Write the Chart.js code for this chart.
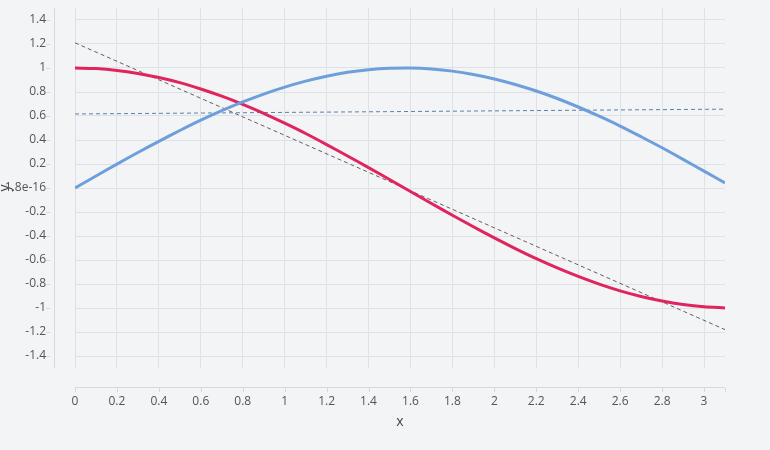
<!DOCTYPE html><html><head>
    <title>sin / cos</title>
    <style>
        html, body { margin: 0; padding: 0; background: #f3f4f6; }
        #wrap { width: 770px; height: 450px; }
    </style>
</head>
<body>
    <div id="wrap"><canvas id="chart" width="770" height="450"></canvas></div>
    <script src="https://cdn.jsdelivr.net/npm/chart.js"></script>
    <script>
        // values
        const xs = [0, 0.1, 0.2, 0.3, 0.4, 0.5, 0.6, 0.7, 0.8, 0.9, 1.0, 1.1, 1.2, 1.3, 1.4, 1.5,
                    1.6, 1.7, 1.8, 1.9, 2.0, 2.1, 2.2, 2.3, 2.4, 2.5, 2.6, 2.7, 2.8, 2.9, 3.0, 3.1];
        const sinVals = [0, 0.100, 0.199, 0.296, 0.389, 0.479, 0.565, 0.644, 0.717, 0.783, 0.841, 0.891,
                    0.932, 0.964, 0.985, 0.997, 1.000, 0.992, 0.974, 0.946, 0.909, 0.863, 0.808, 0.746,
                    0.675, 0.598, 0.516, 0.427, 0.335, 0.239, 0.141, 0.042];
        const cosVals = [1, 0.995, 0.980, 0.955, 0.921, 0.878, 0.825, 0.765, 0.697, 0.622, 0.540, 0.454,
                    0.362, 0.267, 0.170, 0.071, -0.029, -0.129, -0.227, -0.323, -0.416, -0.505, -0.589,
                    -0.666, -0.737, -0.801, -0.857, -0.904, -0.942, -0.971, -0.990, -0.999];
        const trendX = [0, 3.1];
        const sinTrend = [0.617, 0.657];
        const cosTrend = [1.21, -1.18];
        const xTicks = [0, 0.2, 0.4, 0.6, 0.8, 1, 1.2, 1.4, 1.6, 1.8, 2, 2.2, 2.4, 2.6, 2.8, 3];
        const yTicks = [-1.4, -1.2, -1, -0.8, -0.6, -0.4, -0.2, 0, 0.2, 0.4, 0.6, 0.8, 1, 1.2, 1.4];
        const yTickLabels = ['-1.4', '-1.2', '-1', '-0.8', '-0.6', '-0.4', '-0.2', '1.8e-16',
                    '0.2', '0.4', '0.6', '0.8', '1', '1.2', '1.4'];

        Chart.defaults.font.family = "'Open Sans', 'Noto Sans', sans-serif";
        Chart.defaults.color = '#50555c';

        function pts(xa, ya) { return xa.map((x, i) => ({x: x, y: ya[i]})); }

        // axis lines sit a little apart from the plot area, drawn by hand
        const axisLines = {
            id: 'axisLines',
            afterDraw(chart) {
                const {ctx, chartArea: a, scales} = chart;
                ctx.save();
                ctx.strokeStyle = '#d6d8dd';
                ctx.lineWidth = 1;
                ctx.beginPath();
                ctx.moveTo(54.5, a.top); ctx.lineTo(54.5, a.bottom);
                ctx.moveTo(a.left, 387.5); ctx.lineTo(a.right, 387.5);
                yTicks.forEach(v => {
                    const y = Math.round(scales.y.getPixelForValue(v)) + 0.5;
                    ctx.moveTo(46, y); ctx.lineTo(50, y);
                });
                xTicks.concat([3.1]).forEach(v => {
                    const x = Math.round(scales.x.getPixelForValue(v)) + 0.5;
                    ctx.moveTo(x, 388); ctx.lineTo(x, 392);
                });
                ctx.stroke();
                ctx.restore();
            }
        };

        new Chart(document.getElementById('chart').getContext('2d'), {
            type: 'line',
            data: {
                datasets: [
                    {
                        label: 'sin', data: pts(xs, sinVals),
                        borderColor: '#6f9fdb', borderWidth: 3,
                        pointRadius: 0, tension: 0.3, fill: false
                    },
                    {
                        label: 'cos', data: pts(xs, cosVals),
                        borderColor: '#e0245e', borderWidth: 3,
                        pointRadius: 0, tension: 0.3, fill: false
                    },
                    {
                        label: 'sin trend', data: pts(trendX, sinTrend),
                        borderColor: '#5d7fa8', borderWidth: 1, borderDash: [4, 3],
                        pointRadius: 0, fill: false
                    },
                    {
                        label: 'cos trend', data: pts(trendX, cosTrend),
                        borderColor: '#6a5a60', borderWidth: 1, borderDash: [4, 3],
                        pointRadius: 0, fill: false
                    }
                ]
            },
            options: {
                responsive: false,
                animation: false,
                layout: { padding: { top: 8, right: 45, left: 0, bottom: 0 } },
                plugins: { legend: { display: false }, tooltip: { enabled: false } },
                scales: {
                    x: {
                        type: 'linear', min: 0, max: 3.1,
                        afterBuildTicks: s => { s.ticks = xTicks.map(v => ({value: v})); },
                        afterFit: s => { s.height = 82; s.paddingLeft = 0; s.paddingRight = 0; },
                        grid: { color: '#dfe1e6', drawTicks: false },
                        border: { display: false },
                        ticks: { padding: 26, font: { size: 12 }, callback: v => String(v) },
                        title: { display: true, text: 'x', font: { size: 14 }, color: '#444',
                                 padding: { top: 0, bottom: 20 } }
                    },
                    y: {
                        type: 'linear', min: -1.5, max: 1.5,
                        afterBuildTicks: s => { s.ticks = yTicks.map(v => ({value: v})); },
                        afterFit: s => { s.width = 75; s.paddingTop = 0; s.paddingBottom = 0; },
                        grid: { color: '#dfe1e6', drawTicks: false },
                        border: { display: false },
                        ticks: { padding: 29, font: { size: 12 },
                                 callback: (v, i) => yTickLabels[yTicks.indexOf(v)] },
                        title: { display: true, text: 'y', font: { size: 14 }, color: '#444',
                                 padding: { top: -3, bottom: 0 } }
                    }
                }
            },
            plugins: [axisLines]
        });
    </script>
</body></html>
